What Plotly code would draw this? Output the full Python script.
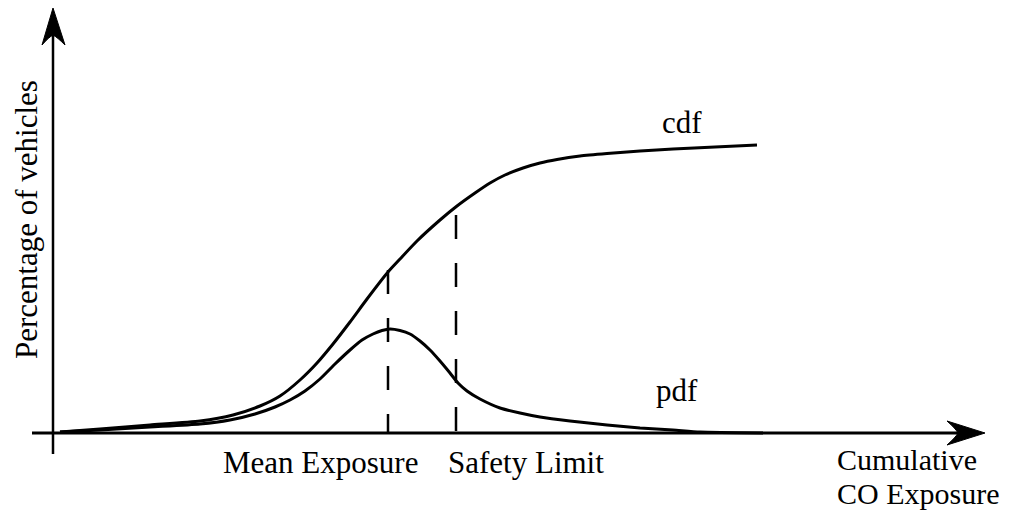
import plotly.graph_objects as go

# Schematic data (arbitrary units: exposure along x, percentage along y)
cdf_x = [7, 47, 97, 147, 180, 207, 227, 247, 264, 280, 297, 314, 335, 347, 364, 387, 404, 422, 437, 452, 470, 487, 504, 527, 554, 587, 620, 662, 704]
cdf_y = [1, 4, 8, 12, 18, 27, 37, 53, 70, 89, 111, 134, 161, 174, 192, 213, 227, 240, 250, 258, 265, 270, 273.5, 277, 279.5, 282, 284, 286, 288]

pdf_x = [7, 47, 97, 147, 177, 202, 222, 237, 252, 267, 282, 297, 309, 320, 329, 337, 347, 357, 367, 377, 387, 397, 405, 414, 427, 447, 467, 487, 517, 554, 587, 620, 647, 710]
pdf_y = [1, 3, 6, 9, 13, 19, 26, 33, 42, 54, 69, 83, 93, 99, 102.5, 104, 102.5, 99, 92, 83, 72, 60, 50, 42, 34, 25, 20, 16, 12, 8, 5, 3, 1, 0]

marker_names = ["Mean Exposure", "Safety Limit"]
marker_x = [335, 403]
marker_top = [163, 218]

FONT = "Liberation Serif, Times New Roman, serif"
BLACK = "#000000"

fig = go.Figure()

fig.add_trace(go.Scatter(x=cdf_x, y=cdf_y, mode="lines",
                         line=dict(color=BLACK, width=3, shape="spline", smoothing=0.6), hoverinfo="skip"))
fig.add_trace(go.Scatter(x=pdf_x, y=pdf_y, mode="lines",
                         line=dict(color=BLACK, width=3, shape="spline", smoothing=0.6), hoverinfo="skip"))

for mx, mt in zip(marker_x, marker_top):
    fig.add_trace(go.Scatter(x=[mx, mx], y=[mt, 0], mode="lines",
                             line=dict(color=BLACK, width=2.5, dash="24px,24px"), hoverinfo="skip"))

# Axes drawn as lines with arrowheads
shapes = [
    dict(type="line", x0=-21, y0=0, x1=915, y1=0, line=dict(color=BLACK, width=3)),
    dict(type="line", x0=0, y0=-21, x1=0, y1=405, line=dict(color=BLACK, width=2.5)),
    dict(type="path", path="M 932 0 L 894 12 Q 903 4 905 0 Q 903 -4 894 -12 Z",
         fillcolor=BLACK, line=dict(color=BLACK, width=1)),
    dict(type="path", path="M 0 425 L -11 388 Q -4 396 0 398 Q 4 396 12 388 Z",
         fillcolor=BLACK, line=dict(color=BLACK, width=1)),
]

font = dict(family=FONT, size=31, color=BLACK)
font_small = dict(family=FONT, size=30, color=BLACK)
annotations = [
    dict(x=267, y=-29, text="Mean Exposure", showarrow=False, font=font, xanchor="center", yanchor="middle"),
    dict(x=473, y=-29, text="Safety Limit", showarrow=False, font=font, xanchor="center", yanchor="middle"),
    dict(x=782, y=-26, text="Cumulative", showarrow=False, font=font_small, xanchor="left", yanchor="middle"),
    dict(x=782, y=-60, text="CO Exposure", showarrow=False, font=font_small, xanchor="left", yanchor="middle"),
    dict(x=629, y=311, text="cdf", showarrow=False, font=font, xanchor="center", yanchor="middle"),
    dict(x=624, y=43, text="pdf", showarrow=False, font=font, xanchor="center", yanchor="middle"),
    dict(x=-27, y=213, text="Percentage of vehicles", showarrow=False, font=font, textangle=-90,
         xanchor="center", yanchor="middle"),
]

# The page body has an 8px margin, so the figure is 8px smaller and the
# ranges start 8px further in, keeping everything at the reference positions.
fig.update_layout(
    width=1004, height=502,
    margin=dict(l=0, r=0, t=0, b=0),
    paper_bgcolor="white", plot_bgcolor="white",
    showlegend=False,
    xaxis=dict(range=[-45, 959], visible=False, fixedrange=True),
    yaxis=dict(range=[-77, 425], visible=False, fixedrange=True),
    shapes=shapes,
    annotations=annotations,
)

fig.write_html("out.html")
